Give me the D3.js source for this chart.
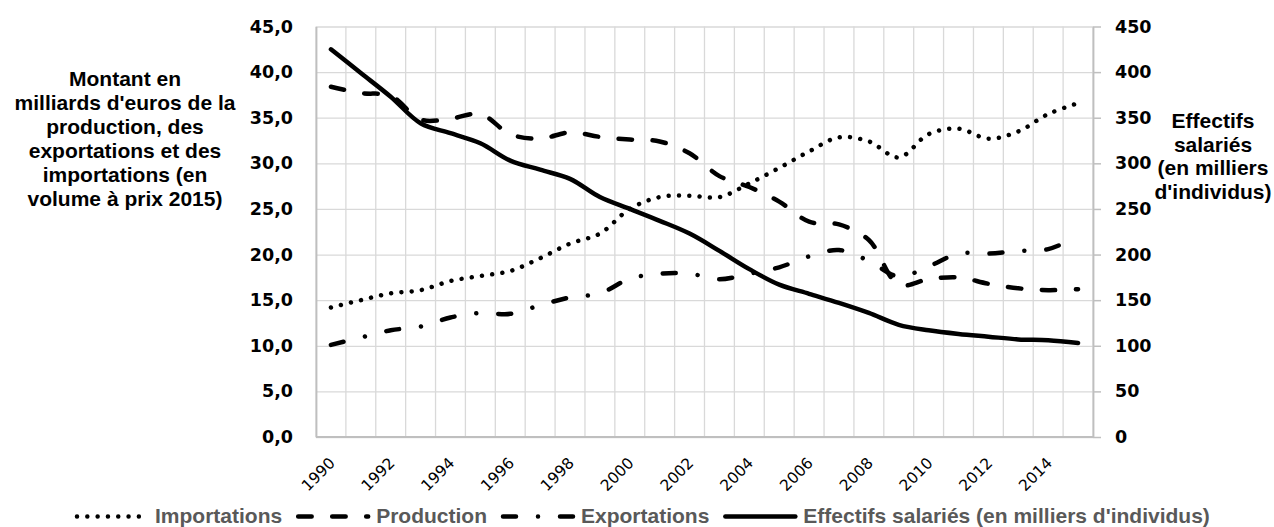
<!DOCTYPE html>
<html>
<head>
<meta charset="utf-8">
<script src="https://cdn.jsdelivr.net/npm/d3@7"></script>
<style>
    body { margin: 0; background: #fff; }
    svg { display: block; }
    .grid line { stroke: #d9d9d9; stroke-width: 1.3; }
    .grid path { display: none; }
    .tick-label { font-family: "DejaVu Sans", sans-serif; font-weight: bold; font-size: 17.5px; fill: #000; }
    .year-label { font-family: "DejaVu Sans", sans-serif; font-size: 15.5px; fill: #000; }
    .title { font-family: "Liberation Sans", Arial, sans-serif; font-weight: bold; font-size: 21px; fill: #000; }
    .legend text { font-family: "Liberation Sans", Arial, sans-serif; font-weight: bold; font-size: 21px; fill: #595959; }
</style>
</head>
<body>
<div id="chart"></div>
<script>
var years = d3.range(1990, 2016);
var yearLabels = [1990, 1992, 1994, 1996, 1998, 2000, 2002, 2004, 2006, 2008, 2010, 2012, 2014];

// milliards d'euros (axe gauche)
var importations = [14.2, 15.0, 15.75, 16.1, 17.1, 17.65, 18.2, 19.6, 21.2, 22.3, 25.0, 26.3, 26.45,
    26.3, 27.8, 29.5, 31.3, 32.85, 32.4, 30.65, 33.2, 33.8, 32.7, 33.5, 35.4, 36.6];
var production = [38.4, 37.7, 37.4, 34.8, 34.9, 35.4, 33.2, 32.7, 33.4, 32.9, 32.6, 32.4, 31.1,
    28.6, 27.4, 25.8, 23.6, 23.3, 21.6, 16.7, 17.3, 17.5, 16.8, 16.3, 16.1, 16.2];
var exportations = [10.1, 10.9, 11.7, 12.1, 13.1, 13.6, 13.5, 14.45, 15.3, 15.75, 17.35, 17.9, 17.9,
    17.3, 17.9, 18.6, 19.8, 20.5, 19.3, 17.6, 18.7, 20.1, 20.1, 20.4, 20.6, 22.0];
// milliers d'individus (axe droit)
var effectifs = [425, 399, 373, 344, 333, 322, 303, 293, 283, 263, 250, 237, 223,
    204, 184, 167, 157, 147, 136, 123, 117, 113, 110, 107, 106, 103];

var leftTicks = d3.range(0, 46, 5);
var rightTicks = d3.range(0, 451, 50);
var leftTitle = ["Montant en", "milliards d'euros de la", "production, des",
    "exportations et des", "importations (en", "volume à prix 2015)"];
var rightTitle = ["Effectifs", "salariés", "(en milliers", "d'individus)"];

var seriesList = [
    { name: 'Importations', values: importations, axis: 'left', dash: '0.01,10.3' },
    { name: 'Production', values: production, axis: 'left', dash: '13.5,20.5' },
    { name: 'Exportations', values: exportations, axis: 'left', dash: '13,22,0.01,22' },
    { name: "Effectifs salariés (en milliers d'individus)", values: effectifs, axis: 'right', dash: null }
];

var chart = {
    width: 1274,
    height: 527,
    plot: { left: 316, right: 1093, top: 26.5, bottom: 437 },

    render: function () {
        this.svg = d3.select('#chart').append('svg')
            .attr('width', this.width)
            .attr('height', this.height);
        this.buildScales();
        this.appendGrid(this.svg);
        this.appendSeries(this.svg);
        this.appendAxes(this.svg);
        this.appendTitles(this.svg);
        this.appendLegend(this.svg);
    },

    buildScales: function () {
        var p = this.plot;
        this.x = d3.scaleBand().domain(years).range([p.left, p.right]);
        this.yLeft = d3.scaleLinear().domain([0, 45]).range([p.bottom, p.top]);
        this.yRight = d3.scaleLinear().domain([0, 450]).range([p.bottom, p.top]);
    },

    cx: function (year) {
        return this.x(year) + this.x.bandwidth() / 2;
    },

    appendGrid: function (element) {
        var p = this.plot, x = this.x;
        element.append('g')
            .attr('class', 'grid')
            .attr('transform', 'translate(' + p.left + ',0)')
            .call(d3.axisLeft(this.yLeft).tickValues(leftTicks)
                .tickSize(-(p.right - p.left)).tickFormat(''));

        // vertical lines between categories
        var edges = years.map(function (y) { return x(y); }).concat([p.right]);
        element.append('g')
            .attr('class', 'grid')
            .selectAll('line')
            .data(edges)
            .enter().append('line')
            .attr('x1', function (d) { return d; })
            .attr('x2', function (d) { return d; })
            .attr('y1', p.top)
            .attr('y2', p.bottom);
    },

    appendSeries: function (element) {
        var self = this;
        _each(seriesList, function (s) {
            var yScale = s.axis === 'left' ? self.yLeft : self.yRight;
            var line = d3.line()
                .x(function (d, i) { return self.cx(years[i]); })
                .y(function (d) { return yScale(d); })
                .curve(d3.curveCatmullRom);
            element.append('path')
                .datum(s.values)
                .attr('d', line)
                .attr('fill', 'none')
                .attr('stroke', '#000')
                .attr('stroke-width', 4.5)
                .attr('stroke-linecap', 'round')
                .attr('stroke-linejoin', 'round')
                .attr('stroke-dasharray', s.dash);
        });
    },

    appendAxes: function (element) {
        var p = this.plot, self = this;
        var fmt = function (d) { return d.toFixed(1).replace('.', ','); };

        var left = element.append('g')
            .attr('transform', 'translate(' + p.left + ',0)')
            .call(d3.axisLeft(this.yLeft).tickValues(leftTicks).tickSize(0).tickPadding(23).tickFormat(fmt));
        left.select('.domain').attr('stroke', '#bfbfbf').attr('stroke-width', 1.8);
        left.selectAll('text').attr('class', 'tick-label').attr('font-size', null).attr('font-family', null);

        var right = element.append('g')
            .attr('transform', 'translate(' + p.right + ',0)')
            .call(d3.axisRight(this.yRight).tickValues(rightTicks).tickSize(8).tickPadding(14).tickSizeOuter(0));
        right.select('.domain').attr('stroke', '#bfbfbf').attr('stroke-width', 1.8);
        right.selectAll('.tick line').attr('stroke', '#bfbfbf').attr('stroke-width', 1.5);
        right.selectAll('text').attr('class', 'tick-label').attr('font-size', null).attr('font-family', null);

        element.append('line')
            .attr('x1', p.left).attr('x2', p.right)
            .attr('y1', p.bottom).attr('y2', p.bottom)
            .attr('stroke', '#bfbfbf')
            .attr('stroke-width', 1.8);

        // rotated year labels, every second year
        element.append('g')
            .selectAll('text')
            .data(yearLabels)
            .enter().append('text')
            .attr('class', 'year-label')
            .attr('text-anchor', 'end')
            .attr('transform', function (d) {
                return 'translate(' + (self.cx(d) + 5) + ',' + (p.bottom + 27) + ') rotate(-45)';
            })
            .text(function (d) { return d; });
    },

    appendTitles: function (element) {
        element.append('text')
            .attr('class', 'title')
            .attr('text-anchor', 'middle')
            .selectAll('tspan')
            .data(leftTitle)
            .enter().append('tspan')
            .attr('x', 125)
            .attr('y', function (d, i) { return 86 + i * 23.9; })
            .text(function (d) { return d; });

        element.append('text')
            .attr('class', 'title')
            .attr('text-anchor', 'middle')
            .selectAll('tspan')
            .data(rightTitle)
            .enter().append('tspan')
            .attr('x', 1213)
            .attr('y', function (d, i) { return 128 + i * 23.5; })
            .text(function (d) { return d; });
    },

    appendLegend: function (element) {
        var legend = element.append('g').attr('class', 'legend');
        var sx = 77, y = 516.5;
        _each(seriesList, function (s) {
            legend.append('line')
                .attr('x1', sx).attr('x2', sx + 70)
                .attr('y1', y).attr('y2', y)
                .attr('stroke', '#000')
                .attr('stroke-width', 4.5)
                .attr('stroke-linecap', 'round')
                .attr('stroke-dasharray', s.dash);
            var label = legend.append('text')
                .attr('x', sx + 78)
                .attr('y', 523)
                .text(s.name);
            sx = sx + 78 + label.node().getComputedTextLength() + 16;
        });
    }
};

function _each(list, fn) {
    for (var i = 0; i < list.length; i++) { fn(list[i], i); }
}

chart.render();
</script>
</body>
</html>
